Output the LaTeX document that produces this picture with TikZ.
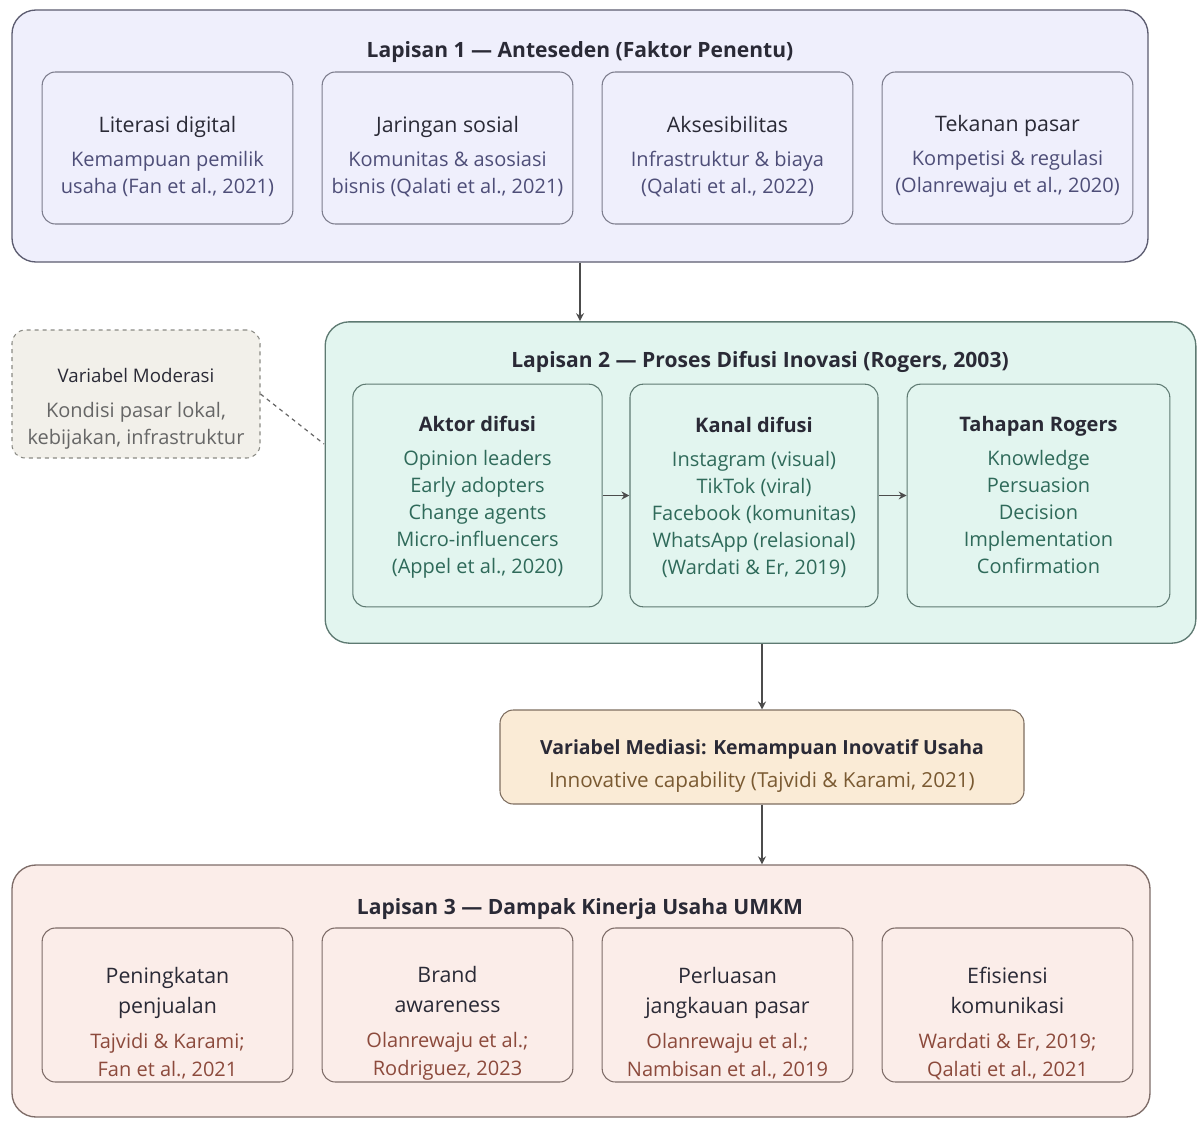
\documentclass[tikz,border=0pt]{standalone}
\usepackage{fontspec}
\setmainfont{Open Sans}
\usetikzlibrary{positioning,arrows.meta}

\definecolor{lavfill}{HTML}{EFEFFC}
\definecolor{lavline}{HTML}{5C5C70}
\definecolor{lavtext}{HTML}{4E4E78}
\definecolor{mintfill}{HTML}{E2F5EF}
\definecolor{mintline}{HTML}{5E7A72}
\definecolor{minttext}{HTML}{2F6A5A}
\definecolor{beigefill}{HTML}{F2F0EA}
\definecolor{beigeline}{HTML}{8A8A84}
\definecolor{peachfill}{HTML}{FAEBD6}
\definecolor{peachline}{HTML}{7E6E60}
\definecolor{peachtext}{HTML}{7A5A32}
\definecolor{rosefill}{HTML}{FBEDE9}
\definecolor{roseline}{HTML}{7E6C68}
\definecolor{rosetext}{HTML}{8C4A3C}
\definecolor{headtext}{HTML}{2A2A36}

\newcommand{\cardhead}[1]{\textcolor{headtext}{\fontsize{16}{20.25}\selectfont #1}}

\begin{document}
\begin{tikzpicture}[x=0.75pt, y=-0.75pt,
	layer/.style = {rectangle, rounded corners=18pt, line width=1pt,
		inner sep=0pt},
	card/.style = {rectangle, rounded corners=10pt, line width=0.8pt,
		inner sep=0pt, minimum width=188pt, minimum height=114pt},
	title/.style = {font=\fontsize{15.8}{18}\selectfont\bfseries, text=headtext},
	txt/.style = {align=center, font=\fontsize{15}{20.25}\selectfont},
	arr/.style = {-{Stealth[length=6pt,width=6pt]}, line width=1.1pt,
		draw=black!70},
	]
	\useasboundingbox (0,0) rectangle (1198,1120);
	
	% Lapisan 1
	\node[layer, draw=lavline, fill=lavfill, minimum width=852pt,
		minimum height=189pt] (l1) at (580,136) {};
	\node[title] (l1t) at (580,52) {Lapisan 1 --- Anteseden (Faktor Penentu)};
	\begin{scope}[every node/.append style={card, draw=lavline!80, fill=lavfill}]
	\node (a1) at (167.5,148) {};
	\node (a2) at (447.5,148) {};
	\node (a3) at (727.5,148) {};
	\node (a4) at (1007.5,148) {};
	\end{scope}
	\begin{scope}[every node/.append style={txt, text=lavtext}]
	\node (a1t) at ([yshift=-6.4pt]a1.center) {\cardhead{Literasi digital}\\[5.25pt]Kemampuan pemilik\\usaha (Fan et al., 2021)};
	\node (a2t) at ([yshift=-6.4pt]a2.center) {\cardhead{Jaringan sosial}\\[5.25pt]Komunitas \& asosiasi\\bisnis (Qalati et al., 2021)};
	\node (a3t) at ([yshift=-6.4pt]a3.center) {\cardhead{Aksesibilitas}\\[5.25pt]Infrastruktur \& biaya\\(Qalati et al., 2022)};
	\node (a4t) at ([yshift=-6.4pt]a4.center) {\cardhead{Tekanan pasar}\\[5.25pt]Kompetisi \& regulasi\\(Olanrewaju et al., 2020)};
	\end{scope}
	
	% Lapisan 2
	\node[layer, draw=mintline, fill=mintfill, minimum width=653pt,
		minimum height=241pt] (l2) at (760.5,482.5) {};
	\node[title] (l2t) at (760,362) {Lapisan 2 --- Proses Difusi Inovasi (Rogers, 2003)};
	\begin{scope}[every node/.append style={card, draw=mintline, fill=mintfill,
		minimum height=167pt}]
	\node[minimum width=187pt] (b1) at (477.5,495.5) {};
	\node[minimum width=186pt] (b2) at (754,495.5) {};
	\node[minimum width=197pt] (b3) at (1038.5,495.5) {};
	\end{scope}
	\begin{scope}[every node/.append style={txt, text=minttext}]
	\node (b1t) at ([yshift=-1.5pt]b1.center) {\cardhead{\bfseries\fontsize{15}{20.25}\selectfont Aktor difusi}\\[5.25pt]Opinion leaders\\Early adopters\\Change agents\\Micro-influencers\\(Appel et al., 2020)};
	\node (b2t) at ([yshift=-1.5pt]b2.center) {\cardhead{\bfseries\fontsize{15}{20.25}\selectfont Kanal difusi}\\[5.25pt]Instagram (visual)\\TikTok (viral)\\Facebook (komunitas)\\WhatsApp (relasional)\\(Wardati \& Er, 2019)};
	\node (b3t) at ([yshift=0.5pt]b3.center) {\cardhead{\bfseries\fontsize{15}{20.25}\selectfont Tahapan Rogers}\\[5.25pt]Knowledge\\Persuasion\\Decision\\Implementation\\Confirmation};
	\end{scope}
	\draw[arr] (b1) -- (b2);
	\draw[arr] (b2) -- (b3);
	
	% Variabel moderasi
	\node[card, dashed, draw=beigeline, fill=beigefill, minimum width=186pt,
		minimum height=96pt] (mod) at (136,394) {};
	\node[txt, text=black!60] (modt) at ([yshift=-11pt]mod.center) {\textcolor{headtext}{\fontsize{14}{20.25}\selectfont Variabel Moderasi}\\[6pt]Kondisi pasar lokal,\\kebijakan, infrastruktur};
	\coordinate (modend) at (324,444);
	\draw[dashed, line width=0.9pt, draw=black!60] (mod.east) -- (modend);
	
	% Variabel mediasi
	\node[card, draw=peachline, fill=peachfill, minimum width=393pt,
		minimum height=70.5pt] (med) at (762,757) {};
	\node[txt, text=peachtext] (medt) at ([yshift=-7pt]med.center) {\textcolor{headtext}{\bfseries\fontsize{14.6}{20.25}\selectfont Variabel Mediasi: Kemampuan Inovatif Usaha}\\[4.5pt]{\fontsize{15.5}{20.25}\selectfont Innovative capability (Tajvidi \& Karami, 2021)}};
	
	% Lapisan 3
	\node[layer, draw=roseline, fill=rosefill, minimum width=853.5pt,
		minimum height=189pt] (l3) at (581,991) {};
	\node[title] (l3t) at (580,909) {Lapisan 3 --- Dampak Kinerja Usaha UMKM};
	\begin{scope}[every node/.append style={card, draw=roseline, fill=rosefill,
		minimum height=115.5pt}]
	\node (c1) at (167.5,1005) {};
	\node (c2) at (447.5,1005) {};
	\node (c3) at (727.5,1005) {};
	\node (c4) at (1007.5,1005) {};
	\end{scope}
	\begin{scope}[every node/.append style={txt, text=rosetext}]
	\node (c1t) at ([yshift=-13.9pt]c1.center) {\cardhead{Peningkatan}\\[2.25pt]\cardhead{penjualan}\\[6pt]Tajvidi \& Karami;\\[0.75pt]Fan et al., 2021};
	\node (c2t) at ([yshift=-13.9pt]c2.center) {\cardhead{Brand}\\[2.25pt]\cardhead{awareness}\\[6pt]Olanrewaju et al.;\\[0.75pt]Rodriguez, 2023};
	\node (c3t) at ([yshift=-13.9pt]c3.center) {\cardhead{Perluasan}\\[2.25pt]\cardhead{jangkauan pasar}\\[6pt]Olanrewaju et al.;\\[0.75pt]Nambisan et al., 2019};
	\node (c4t) at ([yshift=-13.9pt]c4.center) {\cardhead{Efisiensi}\\[2.25pt]\cardhead{komunikasi}\\[6pt]Wardati \& Er, 2019;\\[0.75pt]Qalati et al., 2021};
	\end{scope}
	
	% alur antar lapisan
	\draw[arr] (l1.south) -- (l1.south |- l2.north);
	\draw[arr] (med.north |- l2.south) -- (med.north);
	\draw[arr] (med.south) -- (med.south |- l3.north);
\end{tikzpicture}
\end{document}
